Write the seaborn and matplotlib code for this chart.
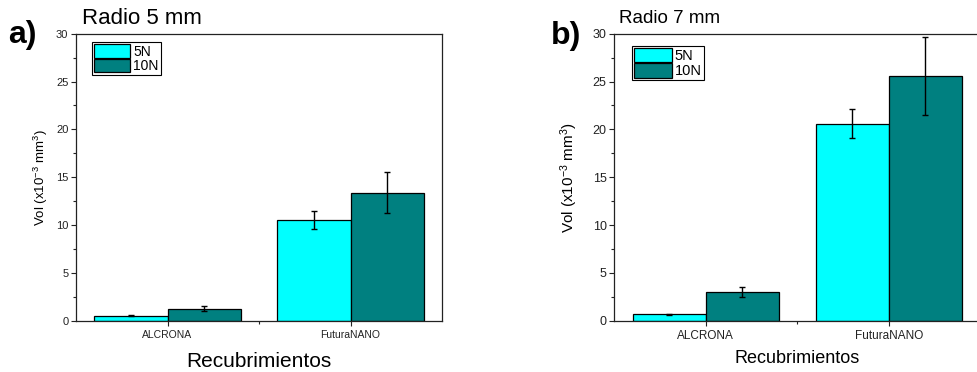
import matplotlib
matplotlib.use("Agg")
import matplotlib.pyplot as plt
import seaborn as sns
import pandas as pd
from matplotlib.ticker import MultipleLocator

# ---- data ----
categories = ["ALCRONA", "FuturaNANO"]
loads = ["5N", "10N"]

a_5N = [0.50, 10.5]
a_10N = [1.27, 13.4]
a_5N_err = [0.05, 0.93]
a_10N_err = [0.22, 2.10]

b_5N = [0.65, 20.6]
b_10N = [3.00, 25.6]
b_5N_err = [0.05, 1.50]
b_10N_err = [0.49, 4.10]

titles = ["Radio 5 mm", "Radio 7 mm"]
panel_tags = ["a)", "b)"]
xlabel = "Recubrimientos"
ylabel = r"Vol (x10$^{-3}$ mm$^{3}$)"

palette = {"5N": "#00FFFF", "10N": "#008080"}

sns.set_style("ticks")
plt.rcParams["font.family"] = ["Liberation Sans", "DejaVu Sans"]
plt.rcParams["mathtext.fontset"] = "custom"
plt.rcParams["mathtext.rm"] = "Liberation Sans"
plt.rcParams["mathtext.it"] = "Liberation Sans"
plt.rcParams["text.color"] = "black"
plt.rcParams["axes.labelcolor"] = "black"

fig = plt.figure(figsize=(9.77, 3.72), dpi=100)

W, H = 977.0, 372.0
ax_w = 366.0 / W
ax_h = (320.7 - 33.7) / H
ax_bottom = (H - 320.7) / H

panels = [
    dict(left=76.0 / W, vals=(a_5N, a_10N), errs=(a_5N_err, a_10N_err),
         ytick_fs=8, xtick_fs=7.5, ylab_fs=9.5, xlab_fs=15, title_fs=16,
         title_xy=(81.7, 24), tag_xy=(8, 43.5), ylab_x=-0.07, leg_anchor=(0.044, 0.971),
         leg_fs=10, xlab_pad=8.5),
    dict(left=614.3 / W, vals=(b_5N, b_10N), errs=(b_5N_err, b_10N_err),
         ytick_fs=9, xtick_fs=8.5, ylab_fs=11, xlab_fs=13, title_fs=13.5,
         title_xy=(619, 22.7), tag_xy=(551, 44), ylab_x=-0.094, leg_anchor=(0.047, 0.958),
         leg_fs=10.5, xlab_pad=6),
]

for i, p in enumerate(panels):
    ax = fig.add_axes([p["left"], ax_bottom, ax_w, ax_h])
    v5, v10 = p["vals"]
    e5, e10 = p["errs"]
    df = pd.DataFrame({
        "Recubrimiento": categories * 2,
        "Carga": [loads[0]] * 2 + [loads[1]] * 2,
        "Vol": list(v5) + list(v10),
    })
    sns.barplot(data=df, x="Recubrimiento", y="Vol", hue="Carga",
                order=categories, hue_order=loads, palette=palette,
                edgecolor="black", linewidth=0.9, saturation=1,
                errorbar=None, legend=False, ax=ax, width=0.8)
    for cont, vals, errs in zip(ax.containers, (v5, v10), (e5, e10)):
        xs = [b.get_x() + b.get_width() / 2 for b in cont]
        ax.errorbar(xs, vals, yerr=errs, fmt="none", ecolor="black",
                    elinewidth=1.0, capsize=2.5, capthick=1.0, zorder=5)

    ax.set_xlim(-0.5, 1.5)
    ax.set_ylim(0, 30)
    ax.yaxis.set_major_locator(MultipleLocator(5))
    ax.yaxis.set_minor_locator(MultipleLocator(2.5))
    ax.set_xticks([0.5], minor=True)
    for s in ax.spines.values():
        s.set_visible(True)
        s.set_color("#222222")
        s.set_linewidth(0.9)
    ax.tick_params(axis="both", which="major", direction="out", length=3.5,
                   width=0.8, color="#222222", pad=2)
    ax.tick_params(axis="both", which="minor", direction="out", length=2.2,
                   width=0.8, color="#222222")
    ax.tick_params(axis="y", labelsize=p["ytick_fs"], labelcolor="#222222")
    ax.tick_params(axis="x", labelsize=p["xtick_fs"], labelcolor="#222222", pad=3)

    ax.set_xlabel(xlabel, fontsize=p["xlab_fs"], labelpad=p["xlab_pad"])
    ax.set_ylabel(ylabel, fontsize=p["ylab_fs"])
    ax.yaxis.set_label_coords(p["ylab_x"], 0.5)

    leg = ax.legend(handles=list(ax.containers), labels=loads, loc="upper left",
                    bbox_to_anchor=p["leg_anchor"], borderaxespad=0,
                    fontsize=p["leg_fs"], handlelength=2.6, handleheight=1.15,
                    labelspacing=0.0, handletextpad=0.2, borderpad=0.15,
                    fancybox=False, framealpha=1, edgecolor="black")
    leg.get_frame().set_linewidth(0.8)

    fig.text(p["title_xy"][0] / W, (H - p["title_xy"][1]) / H, titles[i],
             fontsize=p["title_fs"], ha="left", va="baseline")
    fig.text(p["tag_xy"][0] / W, (H - p["tag_xy"][1]) / H, panel_tags[i],
             fontsize=23, fontweight="bold", ha="left", va="baseline")

fig.savefig("out.png", dpi=100)
